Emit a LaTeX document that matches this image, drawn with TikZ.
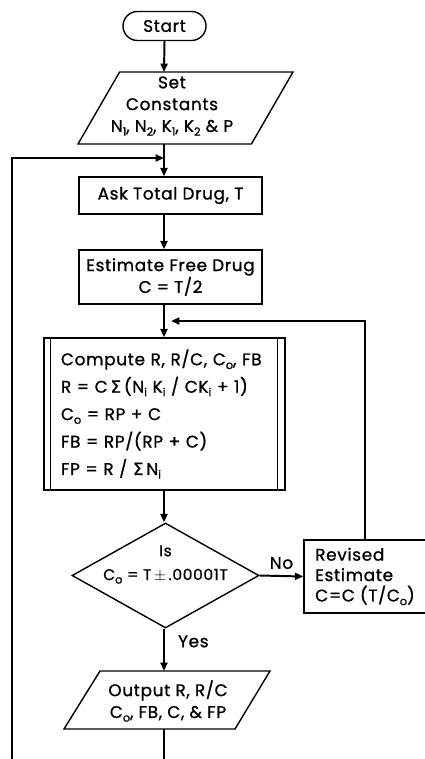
\documentclass[tikz,border=0pt]{standalone}
\usepackage{fontspec}
\setmainfont{Poppins}[LetterSpace=4,FakeBold=1]
\newfontfamily\symfont{DejaVu Sans}[FakeBold=1]
\usetikzlibrary{arrows.meta,positioning,calc,shapes.geometric,shapes.misc}
\newcommand{\dn}[1]{\raisebox{-0.4ex}{\footnotesize #1}}
\newcommand{\sg}{{\symfont Σ}}

\begin{document}
\begin{tikzpicture}[
  x=0.025cm,y=-0.025cm,
  font=\fontsize{12}{15.5}\selectfont,
  blk/.style={draw,line width=1pt,align=center,inner sep=0pt},
  term/.style={blk,rounded rectangle,minimum width=2.075cm,minimum height=0.725cm},
  proc/.style={blk,rectangle,minimum width=4.575cm},
  test/.style={blk,diamond,minimum width=4.675cm,minimum height=2.625cm},
  txt/.style={align=center,inner sep=0pt},
  edge/.style={line width=1pt,line join=miter},
  line/.style={line width=1.4pt},
  arrow/.style={line,-{Triangle[length=6pt,width=5pt]}}
]
\useasboundingbox (0,0) rectangle (425,759);
% main column
\node[term] (start) at (164.5,26) {Start};
\node[txt] (set) at (172,106)
  {Set\\Constants\\N\dn{1}, N\dn{2}, K\dn{1}, K\dn{2} \& P};
\draw[edge] ($(set)+(-94,38)$) -- ($(set)+(-52.4,-34)$) -- ($(set)+(121,-34)$)
  -- ($(set)+(79.4,38)$) -- cycle;
\node[proc,minimum height=0.925cm] (ask) at (170.5,195.5) {Ask Total Drug, T};
\node[proc,minimum height=1.35cm] (est) at (170.5,277) {Estimate Free Drug\\C = T/2};
\node[blk,rectangle,minimum width=6.025cm,minimum height=3.8cm,align=left,
  text width=5.175cm,font=\fontsize{12}{19.5}\selectfont] (comp) at (164.5,414)
  {Compute R, R/C, C\dn{o}, FB\\
   R = C\,\sg\,(N\dn{i} K\dn{i} / CK\dn{i} + 1)\\
   C\dn{o} = RP + C\\
   FB = RP/(RP + C)\\
   FP = R / \sg\,N\dn{i}};
\draw[line width=1pt] ($(comp.north west)+(7,0)$) -- ($(comp.south west)+(7,0)$);
\draw[line width=1pt] ($(comp.north east)+(-8,0)$) -- ($(comp.south east)+(-8,0)$);
\node[test] (isok) at (165.5,575.5) {};
\node[txt,font=\fontsize{11}{17}\selectfont] (isoktxt) at ($(isok)+(0,-11)$)
  {Is\\C\dn{o} = T\,$\pm$\,.00001T};
\node[blk,rectangle,minimum width=2.9cm,minimum height=1.825cm,align=left,
  inner xsep=8pt,font=\fontsize{12}{14.5}\selectfont] (rev) at (365,576.5)
  {Revised\\Estimate\\C=C (T/C\dn{o})};
\node[txt] (out) at (168,701) {Output R, R/C\\C\dn{o}, FB, C, \& FP};
\draw[edge] ($(out)+(-104,28)$) -- ($(out)+(-68,-30)$) -- ($(out)+(102,-30)$)
  -- ($(out)+(67,28)$) -- cycle;

% connectors
\coordinate (spine) at (164,0);
\coordinate (settop) at (164,72);
\coordinate (setbot) at (164,144);
\coordinate (join) at (164,158);
\coordinate (back) at (164,321);
\coordinate (outtop) at (164,671);
\coordinate (outbot) at (164,729);
\coordinate (loopend) at (12,759);
\coordinate (outend) at (164,759);
\draw[arrow] (start.south) -- (settop);
\draw[line] (setbot) -- (join);
\draw[arrow] (join) -- (spine |- ask.north);
\draw[arrow] (spine |- ask.south) -- (spine |- est.north);
\draw[arrow] (spine |- est.south) -- (spine |- comp.north);
\draw[arrow] (spine |- comp.south) -- (spine |- isok.north);
\draw[arrow] (isok.south -| spine) -- (outtop)
  node[pos=0.3,right=6pt] {Yes};
\draw[arrow] (isok.east) -- (rev.west) node[midway,above=1pt] {No};
\draw[arrow,shorten >=5pt] (rev.north) |- (back);
\draw[arrow] (loopend) |- (join);
\draw[line] (outbot) -- (outend);
\end{tikzpicture}
\end{document}
